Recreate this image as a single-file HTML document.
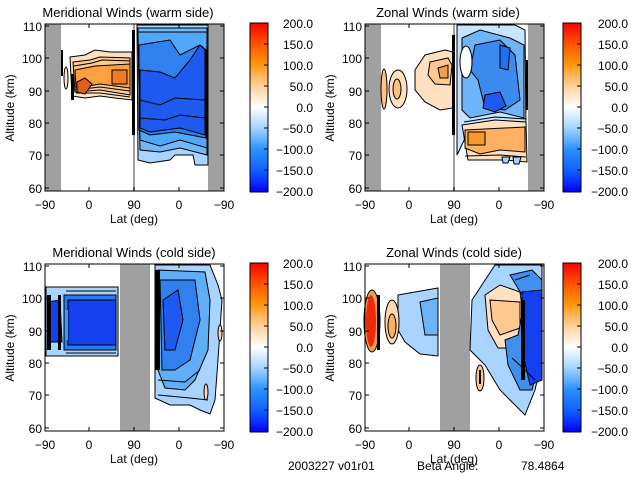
<!DOCTYPE html>
<html><head><meta charset="utf-8"><style>
html,body{margin:0;padding:0;background:#fff;}
svg{display:block;font-family:"Liberation Sans","DejaVu Sans",sans-serif;}
.t{font-size:13px;}
.l{font-size:12px;}
.s{stroke:#000;stroke-width:1;}
.c{fill:none;stroke:#000;stroke-width:1;}
</style></head><body>
<svg width="640" height="480" viewBox="0 0 640 480" xmlns="http://www.w3.org/2000/svg">
<defs>
<linearGradient id="cb" x1="0" y1="0" x2="0" y2="1">
<stop offset="0" stop-color="#ff0000"/>
<stop offset="0.125" stop-color="#ff5500"/>
<stop offset="0.25" stop-color="#ff9a10"/>
<stop offset="0.375" stop-color="#ffd2a0"/>
<stop offset="0.5" stop-color="#ffffff"/>
<stop offset="0.625" stop-color="#a0d2ff"/>
<stop offset="0.75" stop-color="#2a90ff"/>
<stop offset="0.875" stop-color="#1060ff"/>
<stop offset="1" stop-color="#0000ff"/>
</linearGradient>
<g id="axes">
<rect x="45" y="24" width="179" height="167" fill="none" stroke="#000"/>
<g stroke="#000">
<line x1="45" y1="26" x2="49" y2="26"/><line x1="45" y1="58" x2="49" y2="58"/><line x1="45" y1="91" x2="49" y2="91"/><line x1="45" y1="123" x2="49" y2="123"/><line x1="45" y1="155" x2="49" y2="155"/><line x1="45" y1="188" x2="49" y2="188"/>
<line x1="220" y1="26" x2="224" y2="26"/><line x1="220" y1="58" x2="224" y2="58"/><line x1="220" y1="91" x2="224" y2="91"/><line x1="220" y1="123" x2="224" y2="123"/><line x1="220" y1="155" x2="224" y2="155"/><line x1="220" y1="188" x2="224" y2="188"/>
<line x1="89" y1="191" x2="89" y2="187"/><line x1="134" y1="191" x2="134" y2="187"/><line x1="179" y1="191" x2="179" y2="187"/>
<line x1="89" y1="24" x2="89" y2="28"/><line x1="179" y1="24" x2="179" y2="28"/>
</g>
<g class="l" text-anchor="end">
<text x="42" y="31">110</text><text x="42" y="63">100</text><text x="42" y="96">90</text><text x="42" y="128">80</text><text x="42" y="160">70</text><text x="42" y="193">60</text>
</g>
<g class="l" text-anchor="middle">
<text x="45" y="209">−90</text><text x="89" y="209">0</text><text x="134" y="209">90</text><text x="179" y="209">0</text><text x="224" y="209">−90</text>
<text x="134" y="223">Lat (deg)</text>
</g>
<text class="l" transform="translate(14,108) rotate(-90)" text-anchor="middle">Altitude (km)</text>
</g>
<g id="cbarL">
<rect x="250" y="23" width="18" height="169" fill="url(#cb)" stroke="#000"/>
<g stroke="#000"><line x1="264" y1="44" x2="268" y2="44"/><line x1="264" y1="65" x2="268" y2="65"/><line x1="264" y1="86" x2="268" y2="86"/><line x1="264" y1="107" x2="268" y2="107"/><line x1="264" y1="128" x2="268" y2="128"/><line x1="264" y1="149" x2="268" y2="149"/><line x1="264" y1="170" x2="268" y2="170"/></g>
<g class="l" text-anchor="end">
<text x="313" y="28">200.0</text><text x="313" y="49">150.0</text><text x="313" y="70">100.0</text><text x="313" y="91">50.0</text><text x="313" y="112">0.0</text><text x="313" y="133">−50.0</text><text x="313" y="154">−100.0</text><text x="313" y="175">−150.0</text><text x="313" y="196">−200.0</text>
</g>
</g>
<g id="cbarR">
<rect x="243" y="23" width="18" height="169" fill="url(#cb)" stroke="#000"/>
<g stroke="#000"><line x1="257" y1="44" x2="261" y2="44"/><line x1="257" y1="65" x2="261" y2="65"/><line x1="257" y1="86" x2="261" y2="86"/><line x1="257" y1="107" x2="261" y2="107"/><line x1="257" y1="128" x2="261" y2="128"/><line x1="257" y1="149" x2="261" y2="149"/><line x1="257" y1="170" x2="261" y2="170"/></g>
<g class="l" text-anchor="end">
<text x="308" y="28">200.0</text><text x="308" y="49">150.0</text><text x="308" y="70">100.0</text><text x="308" y="91">50.0</text><text x="308" y="112">0.0</text><text x="308" y="133">−50.0</text><text x="308" y="154">−100.0</text><text x="308" y="175">−150.0</text><text x="308" y="196">−200.0</text>
</g>
</g>
</defs>

<!-- TL -->
<g>
<rect x="45" y="24" width="16" height="167" fill="#a0a0a0"/>
<rect x="208" y="24" width="16" height="167" fill="#a0a0a0"/>
<rect x="133" y="24" width="2" height="167" fill="#a0a0a0"/>
<path class="s" fill="#ffe0c0" d="M70,57 L85,55 L95,50 L110,52 L132,52 L132,100 L115,98 L100,96 L85,98 L72,96 Z"/>
<path class="s" fill="#ffc890" d="M73,62 L90,60 L100,57 L130,58 L130,95 L100,90 L75,92 Z"/>
<path class="s" fill="#ffa040" d="M75,70 L95,66 L130,64 L130,88 L100,84 L76,88 Z"/>
<path class="c" d="M74,66 L92,63 L102,60 L130,61 M74,90 L100,87 L130,91 M76,93 L100,93 L130,97"/>
<path class="s" fill="#f07a20" d="M112,70 L127,70 L127,84 L112,84 Z"/>
<path class="s" fill="#e06018" d="M77,82 L85,78 L92,84 L85,94 L77,92 Z"/>
<ellipse class="s" cx="66" cy="78" rx="2" ry="11" fill="#ffe8d0"/>
<rect x="61" y="50" width="2" height="26" fill="#000"/>
<rect x="71" y="74" width="3" height="26" fill="#000"/>
<path class="s" fill="#a8d4ff" d="M137,25 L208,25 L208,165 L195,165 L193,155 L175,155 L170,160 L150,163 L138,160 Z"/>
<path class="s" fill="#70b8f8" d="M138,28 L207,28 L207,155 L180,148 L160,152 L140,150 Z"/>
<path class="s" fill="#50a8f8" d="M138,32 L207,32 L207,148 L180,140 L160,146 L140,140 Z"/>
<path class="s" fill="#3080f0" d="M139,45 L170,40 L180,55 L200,45 L206,50 L206,138 L175,132 L150,135 L139,130 Z"/>
<path class="s" fill="#1e5af0" d="M140,70 L160,72 L175,78 L190,60 L200,45 L205,50 L205,135 L180,128 L150,132 L140,128 Z"/>
<path class="c" d="M140,100 L160,105 L175,98 L205,100 M140,118 L165,120 L180,115 L205,118"/>
<rect x="132" y="30" width="3" height="105" fill="#000"/>
<rect x="205" y="90" width="2" height="40" fill="#000"/>
<use href="#axes"/>
<use href="#cbarL"/>
<text class="t" x="128" y="17" text-anchor="middle">Meridional Winds (warm side)</text>
</g>

<!-- TR -->
<g transform="translate(320,0)">
<rect x="45" y="24" width="16" height="167" fill="#a0a0a0"/>
<rect x="208" y="24" width="16" height="167" fill="#a0a0a0"/>
<rect x="133" y="24" width="2" height="167" fill="#a0a0a0"/>
<ellipse class="s" cx="64" cy="89" rx="3" ry="20" fill="#ffc080"/>
<ellipse class="s" cx="78" cy="89" rx="9" ry="19" fill="#ffe0c0"/>
<ellipse class="s" cx="77" cy="89" rx="4" ry="10" fill="#ffc080"/>
<path class="s" fill="#ffe0c0" d="M95,70 L105,55 L125,50 L133,52 L133,108 L120,110 L105,102 L95,90 Z"/>
<path class="s" fill="#ffc890" d="M110,62 L128,58 L132,65 L130,85 L115,84 L108,75 Z"/>
<path class="s" fill="#f0a050" d="M118,68 L128,65 L128,78 L120,78 Z"/>
<path class="s" fill="#c8e4ff" d="M137,25 L195,25 L205,30 L206,128 L180,125 L150,128 L137,155 L137,25 Z"/>
<path class="s" fill="#70b4f8" d="M142,38 L160,30 L190,38 L204,45 L204,118 L180,112 L150,118 L142,110 Z"/>
<path class="s" fill="#3a8af0" d="M155,45 L180,40 L195,55 L200,100 L185,110 L165,108 L158,80 L150,70 Z"/>
<path class="s" fill="#1e5af0" d="M165,95 L180,92 L186,106 L175,112 L163,108 Z"/>
<path class="s" fill="#2070f0" d="M180,45 L190,48 L188,70 L180,68 Z"/>
<ellipse class="s" cx="146" cy="62" rx="6" ry="16" fill="#ffffff"/>
<path class="s" fill="#ffe0c0" d="M142,125 L175,120 L206,122 L207,162 L185,160 L160,160 L148,160 Z"/>
<path class="s" fill="#ffb060" d="M145,130 L205,127 L205,152 L180,150 L160,154 L145,148 Z"/>
<path class="c" d="M144,122 L175,117 L206,119 M145,156 L180,155 L206,157"/>
<path class="s" fill="#f89830" d="M148,132 L165,132 L165,145 L148,145 Z"/>
<path class="s" fill="#a8d4ff" d="M182,157 L190,157 L188,163 L183,163 Z"/>
<path class="s" fill="#a8d4ff" d="M193,157 L201,157 L199,164 L194,164 Z"/>
<rect x="132" y="35" width="3" height="100" fill="#000"/>
<rect x="206" y="60" width="2" height="50" fill="#000"/>
<use href="#axes"/>
<use href="#cbarR"/>
<text class="t" x="128" y="17" text-anchor="middle">Zonal Winds (warm side)</text>
</g>

<!-- BL -->
<g transform="translate(0,240)">
<rect x="120" y="24" width="30" height="167" fill="#a0a0a0"/>
<path class="s" fill="#a8d4ff" d="M46,47 L118,47 L118,116 L46,116 Z"/>
<path class="s" fill="#2a7af0" d="M64,55 L116,55 L116,110 L64,110 Z"/>
<path class="s" fill="#1440f0" d="M68,60 L116,60 L116,105 L68,105 Z"/>
<path class="c" d="M66,51 L116,51 M66,113 L116,113"/>
<path class="s" fill="#1440f0" d="M48,62 L60,60 L62,102 L48,102 Z"/>
<rect x="47" y="55" width="4" height="55" fill="#000"/>
<rect x="58" y="55" width="3" height="55" fill="#000"/>
<rect x="65" y="70" width="3" height="30" fill="#3a9cf0"/>
<path class="s" fill="#a8d4ff" d="M155,25 L210,25 L218,45 L222,60 L218,120 L215,160 L210,174 L200,170 L190,165 L170,165 L155,158 Z"/>
<path class="s" fill="#60aef8" d="M158,30 L205,32 L210,60 L208,110 L195,140 L185,150 L165,148 L158,130 Z"/>
<path class="s" fill="#3080f0" d="M160,40 L195,40 L200,80 L190,120 L175,130 L162,130 Z"/>
<path class="s" fill="#1e5af0" d="M163,60 L178,50 L183,80 L175,110 L165,110 Z"/>
<path class="c" d="M158,155 L190,158 L208,160 M158,140 L185,142 L200,130"/>
<rect x="155" y="30" width="5" height="100" fill="#000"/>
<ellipse class="s" cx="220" cy="93" rx="2" ry="8" fill="#ffd8b0"/>
<ellipse class="s" cx="206" cy="152" rx="2" ry="8" fill="#ffd8b0"/>
<use href="#axes"/>
<use href="#cbarL"/>
<text class="t" x="134" y="17" text-anchor="middle">Meridional Winds (cold side)</text>
</g>

<!-- BR -->
<g transform="translate(320,240)">
<rect x="120" y="24" width="30" height="167" fill="#a0a0a0"/>
<path class="s" fill="#a8d4ff" d="M78,55 L118,48 L118,116 L100,114 L85,102 L78,90 Z"/>
<path class="s" fill="#70b4f8" d="M100,62 L118,58 L118,95 L105,95 Z"/>
<ellipse class="s" cx="52" cy="81" rx="8" ry="31" fill="#f0a050"/>
<ellipse cx="51" cy="81" rx="5" ry="26" fill="#f02808"/>
<rect x="57" y="55" width="3" height="55" fill="#000"/>
<ellipse class="s" cx="72" cy="82" rx="7" ry="22" fill="#ffd8b0"/>
<ellipse class="s" cx="72" cy="86" rx="4" ry="12" fill="#f8b060"/>
<path class="s" fill="#a8d4ff" d="M152,60 L175,25 L222,25 L222,120 L215,150 L205,175 L195,165 L180,150 L165,125 L150,110 Z"/>
<path class="s" fill="#ffe0c0" d="M165,55 L180,45 L200,52 L205,90 L195,108 L178,108 L168,90 Z"/>
<path class="s" fill="#ffc890" d="M170,60 L200,62 L200,88 L180,95 L172,80 Z"/>
<path class="s" fill="#4090f0" d="M190,35 L212,30 L222,40 L222,110 L212,150 L200,150 L188,125 L185,100 L198,95 L205,60 Z"/>
<path class="s" fill="#1440f0" d="M202,52 L222,50 L222,140 L210,145 L202,110 Z"/>
<path class="c" d="M195,40 L210,35 M192,118 L205,130 L215,140"/>
<rect x="201" y="60" width="4" height="80" fill="#000"/>
<ellipse class="s" cx="160" cy="138" rx="4" ry="13" fill="#ffc890"/>
<rect x="159" y="130" width="2" height="14" fill="#000"/>
<use href="#axes"/>
<use href="#cbarR"/>
<text class="t" x="134" y="17" text-anchor="middle">Zonal Winds (cold side)</text>
</g>

<g class="l">
<text x="288" y="470">2003227 v01r01</text>
<text x="417" y="470">Beta Angle:</text>
<text x="521" y="470">78.4864</text>
</g>
</svg>
</body></html>
